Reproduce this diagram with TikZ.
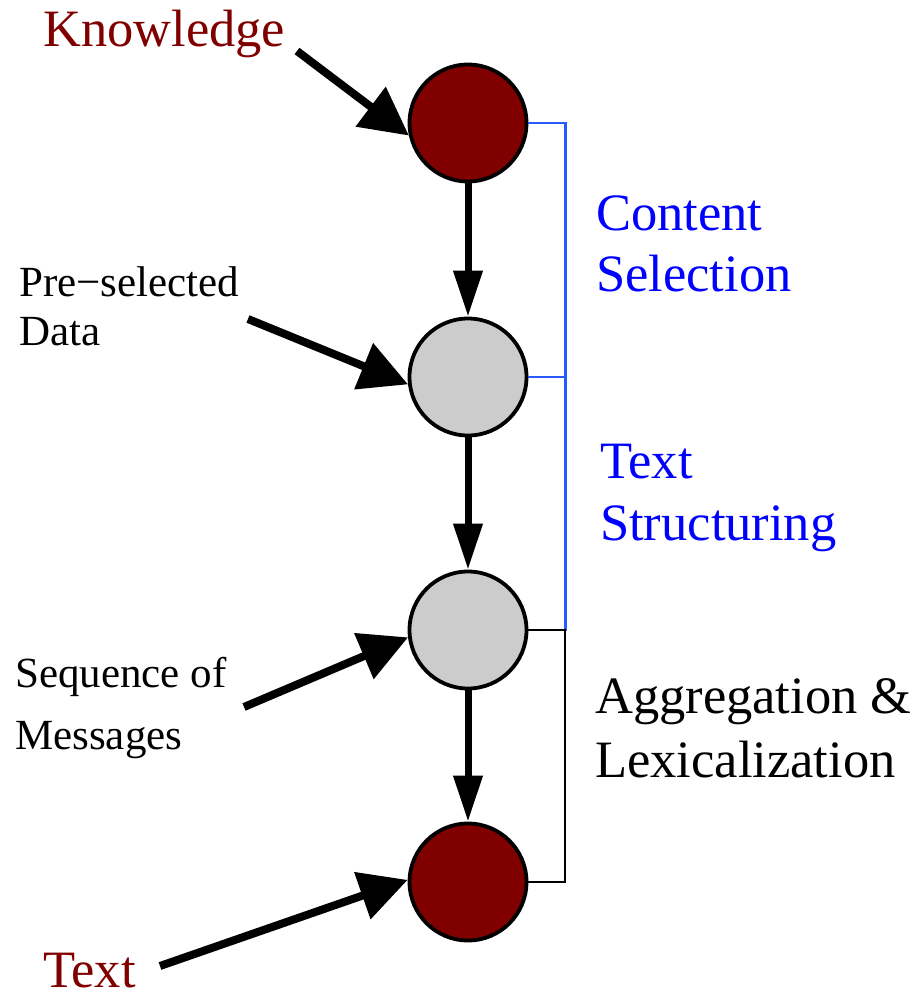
\documentclass[tikz,border=0pt]{standalone}
\usepackage{fontspec}
\setmainfont{Liberation Serif}
\usetikzlibrary{arrows.meta}
\definecolor{maroon}{RGB}{128,0,0}
\definecolor{stagegrey}{RGB}{204,204,204}
\definecolor{bracketblue}{RGB}{40,90,255}
\definecolor{labelblue}{RGB}{0,0,255}
\begin{document}
\begin{tikzpicture}[x=1pt,y=-1pt,
  state/.style={circle,draw=black,line width=3.8pt,minimum size=117pt,inner sep=0pt},
  endstate/.style={state,fill=maroon},
  midstate/.style={state,fill=stagegrey},
  flow/.style={line width=7pt,-{Triangle[length=46pt,width=28pt]}},
  feed/.style={line width=8pt,-{Triangle[length=48pt,width=48pt]}},
  biglabel/.style={anchor=base west,inner sep=0pt,font=\fontsize{52.5}{60}\selectfont},
  smalllabel/.style={anchor=base west,inner sep=0pt,font=\fontsize{43}{50}\selectfont},
  bluebracket/.style={draw=bracketblue,line width=2.2pt},
  blackbracket/.style={draw=black,line width=2pt}]
\useasboundingbox (0,0) rectangle (916,994);

% the four stages of the pipeline
\node[endstate] (c1) at (468,123) {};
\node[midstate] (c2) at (468,377) {};
\node[midstate] (c3) at (468,630) {};
\node[endstate] (c4) at (468,882) {};

% brackets grouping the stages
\draw[bluebracket] (c1.east) -- ++(37,0) |- (c3.east);
\draw[bluebracket] (c2.east) -- ++(37,0);
\draw[blackbracket] (c3.east) -- ++(37,0) |- (c4.east);

% flow between stages
\draw[flow] (c1) -- (c2);
\draw[flow] (c2) -- (c3);
\draw[flow] (c3) -- (c4);

% inputs and outputs
\coordinate (kstart) at (297,51);
\coordinate (pstart) at (248,319);
\coordinate (sstart) at (244,707);
\coordinate (tstart) at (160,966);
\draw[feed] (kstart) -- (c1.192);
\draw[feed] (pstart) -- (c2.187);
\draw[feed] (sstart) -- (c3.187);
\draw[feed] (tstart) -- (c4.178);

% labels
\node[biglabel,text=maroon] (know) at (43,46) {Knowledge};
\node[biglabel,text=maroon] (txt) at (43,987) {Text};
\node[smalllabel] (pre1) at (19,296) {Pre−selected};
\node[smalllabel] (pre2) at (19,345) {Data};
\node[smalllabel] (seq1) at (15,687) {Sequence of};
\node[smalllabel] (seq2) at (15,749) {Messages};
\node[biglabel,text=labelblue] (cs1) at (596,230) {Content};
\node[biglabel,text=labelblue] (cs2) at (596,291) {Selection};
\node[biglabel,text=labelblue] (ts1) at (600,478) {Text};
\node[biglabel,text=labelblue] (ts2) at (600,540) {Structuring};
\node[biglabel] (al1) at (595,713) {Aggregation \&};
\node[biglabel] (al2) at (595,777) {Lexicalization};
\end{tikzpicture}
\end{document}
